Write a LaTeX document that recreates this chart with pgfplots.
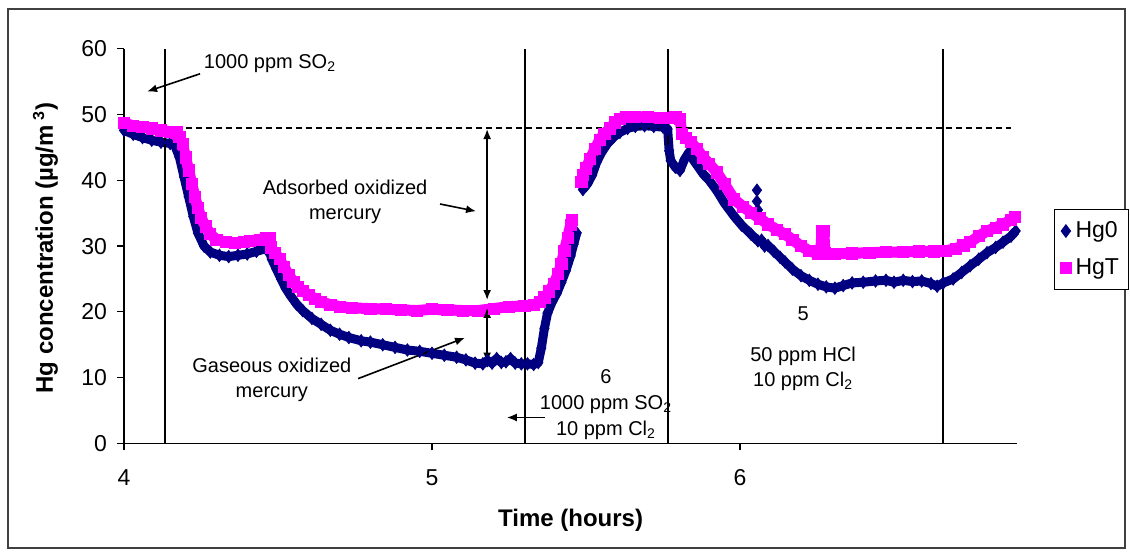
\documentclass[border=0pt]{standalone}
\usepackage{pgfplots}
\pgfplotsset{compat=1.18}
\usepackage{pgfplotstable}
\usepackage{fontspec}
\setmainfont{Liberation Sans}
\usetikzlibrary{arrows.meta}
\definecolor{hgnavy}{RGB}{0,0,128}
\definecolor{hgmag}{RGB}{255,0,255}

\pgfplotstableread{
t v
4.000 47.6
4.030 47.0
4.060 46.5
4.090 46.1
4.120 45.8
4.150 45.6
4.165 45.3
4.180 43.5
4.195 40.5
4.210 37.5
4.225 34.5
4.240 32.0
4.260 30.0
4.280 29.1
4.310 28.6
4.340 28.4
4.370 28.6
4.400 28.8
4.430 29.2
4.460 29.6
4.470 29.5
4.480 28.0
4.495 26.5
4.510 25.0
4.525 23.6
4.540 22.5
4.560 21.2
4.580 20.2
4.610 19.0
4.640 18.1
4.670 17.2
4.700 16.6
4.730 16.1
4.770 15.6
4.800 15.4
4.840 15.0
4.880 14.6
4.920 14.2
4.960 14.0
5.000 13.7
5.040 13.4
5.080 13.1
5.110 12.7
5.140 12.2
5.165 12.1
5.180 12.6
5.195 12.2
5.210 12.9
5.225 12.3
5.240 12.4
5.255 12.9
5.270 12.2
5.290 12.1
5.310 12.1
5.330 12.0
5.345 12.3
5.355 14.5
5.365 17.5
5.375 19.8
5.390 21.5
5.405 22.8
5.420 24.5
5.435 26.3
5.450 28.5
5.460 30.3
5.470 32.0
5.480 nan
5.490 38.6
5.505 39.5
5.520 40.8
5.535 42.8
5.550 44.2
5.570 45.6
5.590 46.6
5.610 47.3
5.635 47.9
5.660 48.2
5.690 48.3
5.720 48.2
5.750 48.1
5.765 47.8
5.770 44.5
5.775 43.0
5.790 42.0
5.805 41.5
5.820 43.2
5.835 44.3
5.850 43.0
5.865 42.0
5.880 41.0
5.900 40.0
5.925 38.4
5.950 36.5
5.980 34.6
6.005 33.2
6.036 31.8
6.058 30.8
6.070 30.9
6.080 30.0
6.091 30.1
6.110 29.2
6.130 28.3
6.146 27.6
6.170 26.5
6.198 25.5
6.225 24.8
6.253 24.2
6.280 23.8
6.308 23.6
6.335 24.0
6.364 24.4
6.400 24.5
6.440 24.7
6.474 24.8
6.500 24.5
6.530 24.8
6.560 24.6
6.590 24.7
6.620 24.3
6.640 23.9
6.660 24.4
6.692 25.0
6.720 26.0
6.747 27.0
6.775 28.0
6.802 29.0
6.830 29.8
6.854 30.6
6.880 31.5
6.895 32.3
}\hgzero

\pgfplotstableread{
t v
6.055 38.5
6.055 36.8
6.058 35.5
}\hgzeroout

\pgfplotstableread{
t v
4.000 48.7
4.030 48.3
4.060 48.1
4.090 47.9
4.120 47.6
4.150 47.4
4.170 47.3
4.180 46.6
4.190 45.5
4.200 43.5
4.210 41.5
4.220 39.5
4.230 37.5
4.240 35.8
4.250 34.3
4.265 33.0
4.280 31.8
4.300 31.0
4.330 30.6
4.360 30.5
4.390 30.6
4.410 30.8
4.440 31.0
4.460 31.3
4.472 31.3
4.476 29.8
4.490 29.0
4.505 28.0
4.520 26.8
4.535 25.6
4.550 24.6
4.565 23.8
4.580 23.2
4.600 22.6
4.620 22.0
4.640 21.5
4.670 21.1
4.700 20.8
4.740 20.6
4.800 20.5
4.850 20.4
4.900 20.3
4.950 20.2
5.000 20.4
5.050 20.3
5.100 20.2
5.150 20.2
5.200 20.5
5.250 20.8
5.300 20.9
5.330 21.1
5.350 21.5
5.365 22.2
5.380 23.1
5.395 24.2
5.410 25.8
5.420 27.3
5.430 29.3
5.440 31.2
5.450 33.2
5.455 34.0
5.470 nan
5.485 39.8
5.490 40.8
5.500 41.8
5.513 43.2
5.530 44.8
5.545 46.2
5.560 47.1
5.578 47.9
5.595 48.8
5.610 49.4
5.630 49.7
5.660 49.7
5.700 49.6
5.740 49.5
5.770 49.5
5.790 49.6
5.805 49.3
5.812 47.0
5.825 46.4
5.840 45.8
5.860 44.8
5.880 43.5
5.900 42.5
5.925 41.2
5.950 39.4
5.981 37.1
6.010 36.0
6.036 35.1
6.065 34.2
6.091 33.3
6.120 32.5
6.146 31.8
6.170 31.0
6.198 30.0
6.225 29.3
6.253 28.8
6.262 28.9
6.266 32.3
6.272 32.3
6.276 28.9
6.308 28.8
6.364 28.9
6.420 29.0
6.474 29.1
6.530 29.1
6.581 29.2
6.630 29.2
6.669 29.3
6.700 29.6
6.725 30.1
6.747 30.6
6.775 31.5
6.802 32.3
6.830 32.8
6.854 33.3
6.880 34.0
6.893 34.5
}\hgtotal

\begin{document}
\begin{tikzpicture}[x=1pt,y=1pt]
\path[use as bounding box] (0,0) rectangle (565,278);
\draw[black!75, line width=0.6pt] (4,4) rectangle (562.5,273.5);
\begin{axis}[
  at={(62pt,56.3pt)}, anchor=south west,
  scale only axis, width=446.6pt, height=197.3pt,
  xmin=4, xmax=6.9, ymin=0, ymax=60,
  axis x line*=bottom, axis y line*=left,
  axis line style={-, black, line width=0.6pt},
  xtick={4,5,6}, ytick={0,10,...,60},
  tick align=outside, major tick length=3.5pt,
  tick style={black, line width=0.6pt},
  /pgf/number format/assume math mode=true,
  ticklabel style={font=\fontsize{11.5}{13}\selectfont},
  xticklabel style={yshift=-6pt},
  yticklabel style={xshift=-1.5pt},
  xlabel={\textbf{Time (hours)}},
  ylabel={\textbf{Hg concentration (µg/m\textsuperscript{ 3})}},
  label style={font=\fontsize{12}{14}\selectfont},
  xlabel style={at={(axis description cs:0.5,-0.194)}, anchor=center},
  ylabel style={at={(axis description cs:-0.088,0.495)}, anchor=center},
  unbounded coords=jump,
  clip=false,
  legend style={at={(axis description cs:1.041,0.594)}, anchor=north west,
    draw=black, line width=0.5pt, font=\fontsize{11.5}{13}\selectfont,
    row sep=5pt, inner xsep=3pt, inner ysep=4pt},
  legend cell align=left,
]
\addplot[hgnavy, line width=4.5pt, line join=round, forget plot] table[x=t,y=v] {\hgzero};
\addplot[only marks, mark=diamond*, mark size=3.1pt, hgnavy] table[x=t,y=v] {\hgzero};
\addlegendentry{Hg0}
\addplot[only marks, mark=diamond*, mark size=3.1pt, hgnavy, forget plot] table[x=t,y=v] {\hgzeroout};
\addplot[hgmag, line width=5.5pt, line join=round, forget plot] table[x=t,y=v] {\hgtotal};
\addplot[only marks, mark=square*, mark size=2.8pt, hgmag] table[x=t,y=v] {\hgtotal};
\addlegendentry{HgT}

% phase boundaries
\draw[black, line width=0.7pt] (axis cs:4.133,0) -- (axis cs:4.133,60);
\draw[black, line width=0.7pt] (axis cs:5.302,0) -- (axis cs:5.302,60);
\draw[black, line width=0.7pt] (axis cs:5.766,0) -- (axis cs:5.766,60);
\draw[black, line width=0.7pt] (axis cs:6.659,0) -- (axis cs:6.659,60);
\draw[black, line width=0.85pt, dash pattern=on 3pt off 2pt] (axis cs:4.135,48) -- (axis cs:6.88,48);

% annotations
\node[font=\fontsize{10}{12}\selectfont] at (axis cs:4.474,57.7) {1000 ppm SO\textsubscript{2}};
\draw[-{Latex[length=5pt,width=4pt]}, line width=0.8pt] (axis cs:4.247,56.2) -- (axis cs:4.075,53.5);

\node[font=\fontsize{10}{12.5}\selectfont, align=center] at (axis cs:4.718,36.8) {Adsorbed oxidized\\mercury};
\draw[-{Latex[length=5pt,width=4pt]}, line width=0.8pt] (axis cs:5.026,36.4) -- (axis cs:5.143,35.3);

\draw[{Latex[length=5pt,width=4pt]}-{Latex[length=5pt,width=4pt]}, line width=0.8pt] (axis cs:5.179,47.8) -- (axis cs:5.179,21.8);
\draw[{Latex[length=5pt,width=4pt]}-{Latex[length=5pt,width=4pt]}, line width=0.8pt] (axis cs:5.179,20.6) -- (axis cs:5.179,12.3);

\node[font=\fontsize{10}{12.5}\selectfont, align=center] at (axis cs:4.48,9.7) {Gaseous oxidized\\mercury};
\draw[-{Latex[length=5pt,width=4pt]}, line width=0.8pt] (axis cs:4.760,9.85) -- (axis cs:5.107,16.06);

\node[font=\fontsize{10}{13}\selectfont, align=center] at (axis cs:5.565,5.9) {6\\1000 ppm SO\textsubscript{2}\\10 ppm Cl\textsubscript{2}};
\draw[-{Latex[length=5pt,width=4pt]}, line width=0.8pt] (axis cs:5.367,3.94) -- (axis cs:5.243,3.94);

\node[font=\fontsize{10}{12}\selectfont] at (axis cs:6.205,19.7) {5};
\node[font=\fontsize{10}{12.5}\selectfont, align=center] at (axis cs:6.205,11.4) {50 ppm HCl\\10 ppm Cl\textsubscript{2}};
\end{axis}
\end{tikzpicture}
\end{document}
